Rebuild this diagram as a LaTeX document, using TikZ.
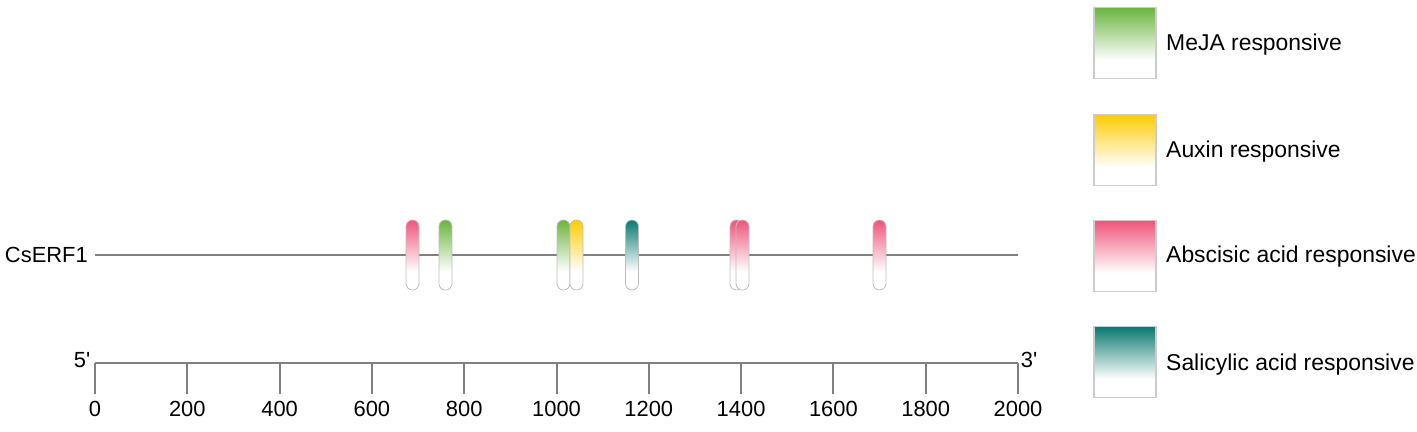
\documentclass[tikz,border=0pt]{standalone}
\usepackage{fontspec}
\setmainfont{Liberation Sans}
\definecolor{mejacol}{RGB}{106,180,62}
\definecolor{auxincol}{RGB}{255,204,0}
\definecolor{abacol}{RGB}{240,84,122}
\definecolor{sacol}{RGB}{8,122,112}
\definecolor{linecol}{RGB}{128,128,128}
\colorlet{fadecol}{black}
\pgfdeclareverticalshading[fadecol]{fadedown}{100bp}{color(0bp)=(white); color(25bp)=(white); color(38bp)=(white); color(75bp)=(fadecol); color(100bp)=(fadecol)}
\begin{document}
\begin{tikzpicture}[x=1bp,y=-1bp]
        \tikzset{pill/.style = {shape=rectangle,draw=black!25,line width=0.8bp,rounded corners=6.4bp,minimum width=13bp,minimum height=70bp,inner sep=0pt,/utils/exec={\colorlet{fadecol}{#1}},shade,shading=fadedown}}
        \tikzset{key/.style = {shape=rectangle,draw=black!20,line width=1.2bp,minimum width=62bp,minimum height=71bp,inner sep=0pt,/utils/exec={\colorlet{fadecol}{#1}},shade,shading=fadedown}}
        \tikzset{txt/.style = {inner sep=0pt,font=\fontsize{22}{26}\selectfont}}
        \tikzset{keytxt/.style = {inner sep=0pt,anchor=west,font=\fontsize{23}{27}\selectfont}}
        \tikzset{gline/.style = {draw=linecol,line width=2bp}}
        \useasboundingbox (0,0) rectangle (1417,431);

        % gene
        \node[txt,anchor=east] (gene) at (88,255) {CsERF1};
        \coordinate (g0) at (95,255);
        \coordinate (g1) at (1018,255);
        \draw[gline] (g0) to (g1);

        \node[pill=abacol] (1) at (412.5,255) {};
        \node[pill=mejacol] (2) at (445.5,255) {};
        \node[pill=mejacol] (3) at (563.5,255) {};
        \node[pill=auxincol] (4) at (576.5,255) {};
        \node[pill=sacol] (5) at (632,255) {};
        \node[pill=abacol] (6) at (736.5,255) {};
        \node[pill=abacol] (7) at (742.5,255) {};
        \node[pill=abacol] (8) at (879.5,255) {};

        % scale
        \coordinate (a0) at (95,363);
        \coordinate (a1) at (1018,363);
        \draw[gline] (a0) to (a1);
        \node[txt] (five) at (82,360) {5\textquotesingle};
        \node[txt] (three) at (1029,360) {3\textquotesingle};
        \foreach \v in {0,200,...,2000} {
          \pgfmathsetmacro{\xx}{95+0.4615*\v}
          \coordinate (t\v) at (\xx,363);
          \coordinate (b\v) at (\xx,394);
          \draw[gline] (t\v) to (b\v);
          \node[txt] (n\v) at (\xx,409) {\v};
        }

        % legend
        \node[key=mejacol] (k1) at (1125,43) {};
        \node[key=auxincol] (k2) at (1125,150) {};
        \node[key=abacol] (k3) at (1125,256) {};
        \node[key=sacol] (k4) at (1125,362) {};
        \node[keytxt] (l1) at (1166,45) {MeJA responsive};
        \node[keytxt] (l2) at (1166,152) {Auxin responsive};
        \node[keytxt] (l3) at (1166,257) {Abscisic acid responsive};
        \node[keytxt] (l4) at (1166,365) {Salicylic acid responsive};
      \end{tikzpicture}
\end{document}
